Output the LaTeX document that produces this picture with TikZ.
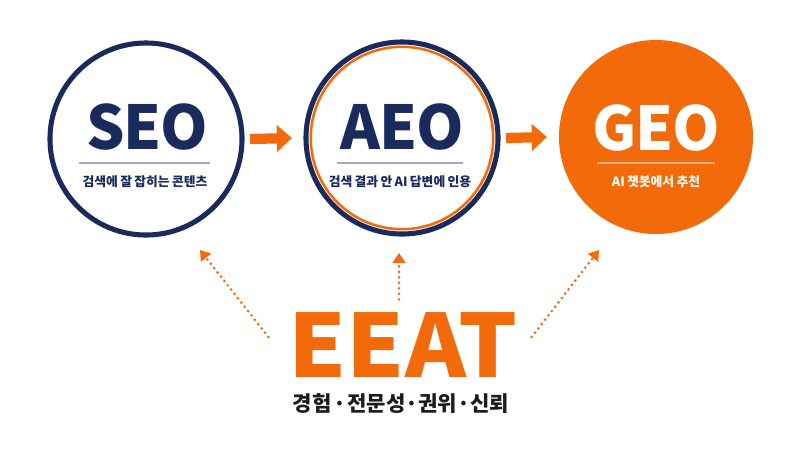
\documentclass[tikz,border=0pt]{standalone}
\usepackage{fontspec}
\usepackage{tikz}
\usetikzlibrary{arrows.meta,positioning}
\newfontfamily\krfont{Noto Sans CJK KR}[WordSpace=0.8]
\newfontfamily\krheavy{Noto Sans CJK KR Black}[LetterSpace=-2]
\newfontfamily\krwide{Noto Sans CJK KR Black}[FakeStretch=1.06]
\definecolor{navyblue}{HTML}{1A2A5C}
\definecolor{brandorange}{HTML}{F26A0A}
\definecolor{rulegrey}{HTML}{A3AAC2}
\definecolor{rulepeach}{HTML}{F9B27F}
\definecolor{inkgrey}{HTML}{1C1C1C}

\begin{document}
\begin{tikzpicture}[x=0.025cm,y=-0.025cm,
    ring/.style={circle,minimum size=4.8cm,inner sep=0pt,line width=3.6pt},
    title/.style={font=\krheavy\fontsize{43}{43}\selectfont,inner sep=0pt},
    caption/.style={font=\krfont\bfseries\fontsize{9.1}{9.1}\selectfont,inner sep=0pt},
    flow/.style={brandorange,line width=7.3pt,-{Triangle[length=10.7pt,width=18.5pt]}},
    hint/.style={brandorange,line width=2.1pt,line cap=round,dash pattern=on 0pt off 3.9pt,-{Triangle[length=7pt,width=9pt]}}]

    % Frame of the picture
    \fill[white] (0,0) rectangle (800,450);
    \useasboundingbox (0,0) rectangle (800,450);

    % Define the three circles
    \node[ring,draw=navyblue] (seo) at (146,139) {};
    \node[ring,draw=navyblue] (aeo) at (402,138) {};
    \node[ring,fill=brandorange,minimum size=4.85cm] (geo) at (656,137) {};
    \draw[brandorange,line width=1.8pt] (aeo.center) circle[radius=2.28cm];

    % Titles, rules and captions
    \node[title,text=navyblue] (seotitle) at (147,127) {SEO};
    \draw[rulegrey,line width=1.1pt] ([shift={(-67,24)}]seo.center) -- ([shift={(64,24)}]seo.center);
    \node[caption,text=navyblue] (seocap) at (145,182) {검색에 잘 잡히는 콘텐츠};

    \node[title,text=navyblue] (aeotitle) at (402,127) {AEO};
    \draw[rulegrey,line width=1.1pt] ([shift={(-65,25)}]aeo.center) -- ([shift={(61,25)}]aeo.center);
    \node[caption,text=navyblue] (aeocap) at (400,182) {검색 결과 안 AI 답변에 인용};

    \node[title,text=white] (geotitle) at (656,128) {GEO};
    \draw[rulepeach,line width=1.1pt] ([shift={(-59,26)}]geo.center) -- ([shift={(59,26)}]geo.center);
    \node[caption,text=white] (geocap) at (656,182) {AI 챗봇에서 추천};

    % Draw the flow between the circles
    \draw[flow] ([shift={(5.5,0)}]seo.east) -- ([shift={(-11.5,0)}]aeo.west);
    \draw[flow] ([shift={(5.5,0)}]aeo.east) -- ([shift={(-9.5,0)}]geo.west);

    % EEAT underneath
    \node[font=\krwide\fontsize{62}{62}\selectfont,text=brandorange,inner sep=0pt] (eeat) at (403,345) {EEAT};
    \node[font=\krfont\bfseries\fontsize{15}{15}\selectfont,text=inkgrey,inner sep=0pt] (eeatcap) at (401,404) {경험\kern1pt·\kern1pt전문성·권위·신뢰};

    % Dotted hints up to each circle
    \coordinate (seohint) at (200,250);
    \coordinate (aeohint) at (399,253);
    \coordinate (geohint) at (599,250);
    \draw[hint] ([shift={(-20,-8)}]eeat.west) -- (seohint);
    \draw[hint] ([shift={(-4,-13)}]eeat.north) -- (aeohint);
    \draw[hint] ([shift={(14,-8)}]eeat.east) -- (geohint);
\end{tikzpicture}
\end{document}
